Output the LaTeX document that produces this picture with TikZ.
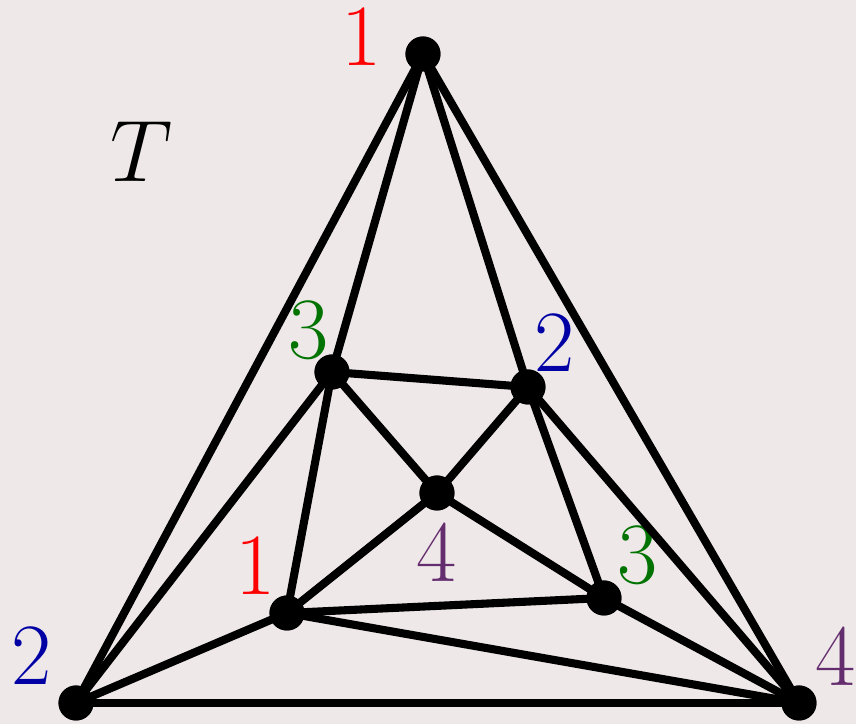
\documentclass[tikz,border=0pt]{standalone}
\usepackage{xcolor}
\definecolor{PaperPink}{RGB}{238,232,233}
\definecolor{ColorOne}{RGB}{255,0,0}
\definecolor{ColorTwo}{RGB}{0,0,165}
\definecolor{ColorThree}{RGB}{0,115,0}
\definecolor{ColorFour}{RGB}{100,45,110}
\usetikzlibrary{
    positioning,
    calc
}

\begin{document}
\begin{tikzpicture}[
%
    vertex/.style={
        circle,
        fill=black,
        inner sep=0pt,
        minimum size=3.5mm
    },
%
    lbl/.style={
        inner sep=0pt,
        font=\Huge
    },
%
    edge/.style={
        line width=2.3pt,
        color=black
    }
]
%
% Paper background fixes the page size.
%
\fill[PaperPink] (0,0) rectangle (8.56,7.24);
\useasboundingbox (0,0) rectangle (8.56,7.24);
%
% Outer triangle and inner vertices.
%
\node[vertex] (top) at (4.23,6.70) {};
\node[vertex] (bl) at (0.76,0.21) {};
\node[vertex] (br) at (7.99,0.21) {};
\node[vertex] (ia) at (3.32,3.52) {};
\node[vertex] (ib) at (5.28,3.37) {};
\node[vertex] (ic) at (4.37,2.31) {};
\node[vertex] (id) at (2.87,1.11) {};
\node[vertex] (ie) at (6.04,1.26) {};
%
% Colour labels.
%
\node[lbl, text=ColorOne] (ltop) at (3.62,6.87) {1};
\node[lbl, text=ColorTwo] (lleft) at (0.32,0.68) {2};
\node[lbl, text=ColorFour] (lright) at (8.36,0.68) {4};
\node[lbl, text=ColorThree] (lia) at (3.09,3.94) {3};
\node[lbl, text=ColorTwo] (lib) at (5.55,3.81) {2};
\node[lbl, text=ColorFour] (lic) at (4.37,1.72) {4};
\node[lbl, text=ColorOne] (lid) at (2.56,1.58) {1};
\node[lbl, text=ColorThree] (lie) at (6.38,1.69) {3};
\node[lbl] (name) at (1.42,5.72) {$T$};
%
% Edges.
%
\foreach \u/\v in {top/bl, top/br, top/ia, top/ib, ia/ib, ia/ic, ia/id, ia/bl, ib/ic, ib/ie, ib/br, ic/id, ic/ie, id/ie, id/bl, id/br, ie/br, bl/br}{
    \draw[edge] (\u.center) -- (\v.center);
}
%
% Redraw vertices on top of the edges.
%
\foreach \v in {top, bl, br, ia, ib, ic, id, ie}{
    \fill (\v) circle (1.75mm);
}
%
\end{tikzpicture}
\end{document}
